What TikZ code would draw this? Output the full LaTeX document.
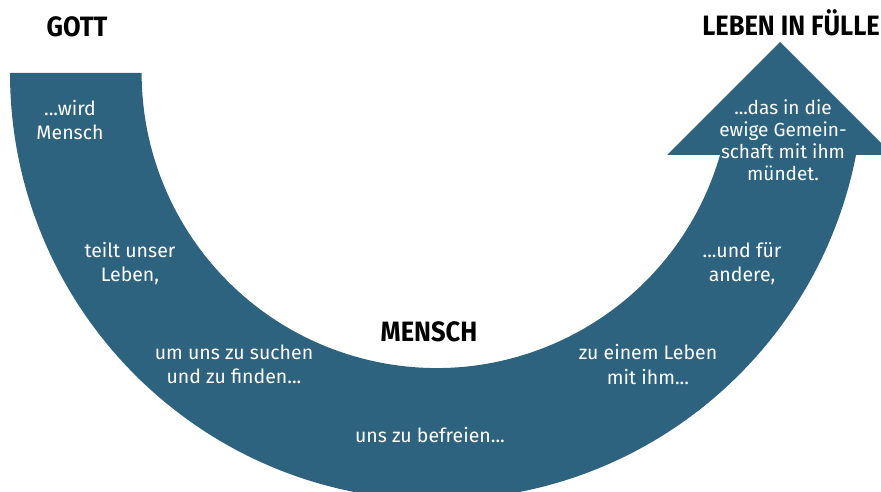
\documentclass[tikz,border=0pt]{standalone}
\usepackage{fontspec}
\setmainfont{Fira Sans}
\newfontfamily\titlefont{Fira Sans}[FakeStretch=0.91]
\definecolor{band}{RGB}{46,99,128}
\tikzset{
  lbl/.style={text=white, align=center, inner sep=0pt, font=\fontsize{19.5}{24.5}\selectfont},
  lbltight/.style={lbl, font=\fontsize{19}{22}\selectfont},
  ttl/.style={text=black, inner sep=0pt, font=\titlefont\bfseries\fontsize{28}{30}\selectfont}
}
\begin{document}
\begin{tikzpicture}[x=1pt,y=1pt]
\useasboundingbox (0,0) rectangle (881,491);
\clip (0,0) rectangle (881,491);
% band: circle centre (437,418), outer r 427, inner r 295
\coordinate (C) at (437,418);
\fill[band] (10,418) arc[start angle=180, end angle=348.93, radius=427]
  -- (893,336) -- (780,449) -- (667,336) -- (720,336)
  arc[start angle=-16.14, end angle=-180, radius=295] -- cycle;
% titles
\node[ttl, anchor=base] (gott) at (77,454) {GOTT};
\node[ttl, anchor=base east] (leben) at (880,455) {LEBEN IN FÜLLE};
\node[ttl, anchor=base] (mensch) at (429,150) {MENSCH};
% labels
\node[lbl] (t1) at (70,371) {...wird\\Mensch};
\node[lbl] (t2) at (130,227.5) {teilt unser\\Leben,};
\node[lbl] (t3) at (234,126.5) {um uns zu suchen\\und zu finden...};
\node[lbl, anchor=base] (t4) at (430,49) {uns zu befreien...};
\node[lbl] (t5) at (648,126.5) {zu einem Leben\\mit ihm...};
\node[lbl] (t6) at (742,227.5) {...und für\\andere,};
\node[lbltight] (t7) at (783,351) {...das in die\\ewige Gemein-\\schaft mit ihm\\mündet.};
\end{tikzpicture}
\end{document}
